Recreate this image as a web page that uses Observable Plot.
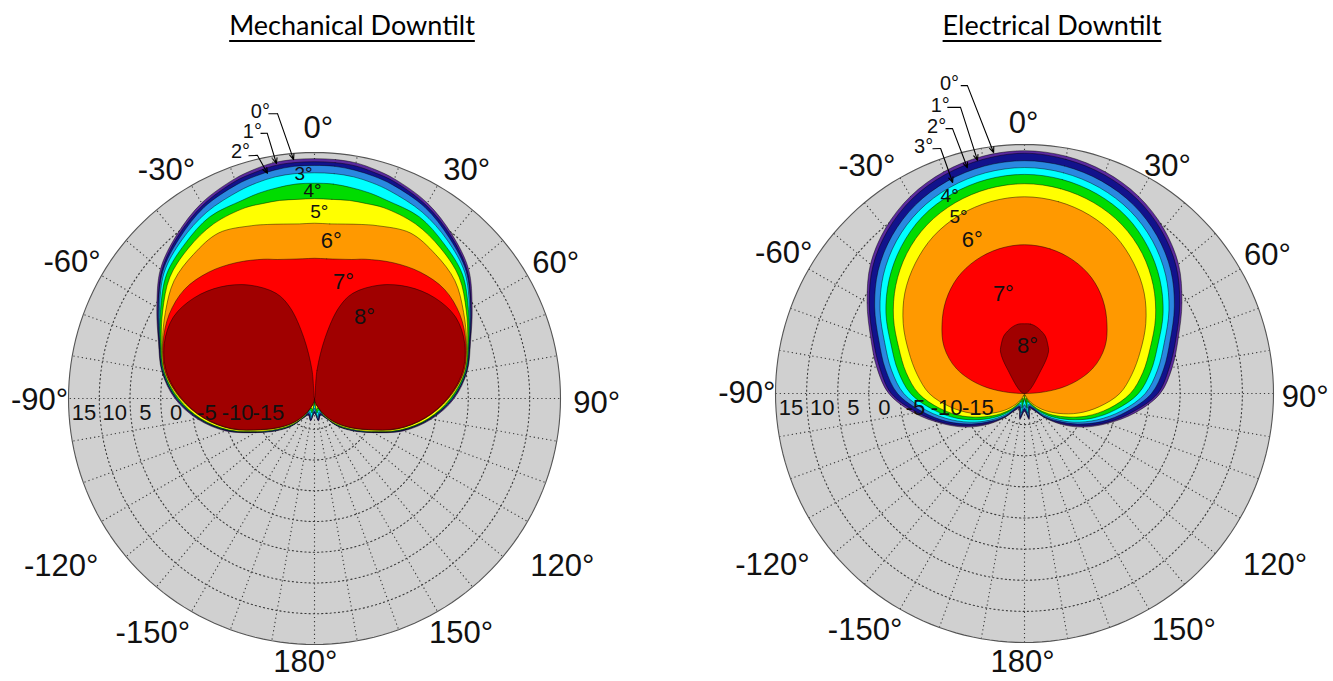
<!DOCTYPE html>
<html>
<head>
<meta charset="utf-8">
<script src="https://cdn.jsdelivr.net/npm/d3@7"></script>
<script src="https://cdn.jsdelivr.net/npm/@observablehq/plot@0.6"></script>
<style>
  html, body { margin: 0; padding: 0; background: #fff; }
  #page { position: relative; width: 1333px; height: 681px; overflow: hidden; }
  .title { position: absolute; top: 8px; transform: translateX(-50%); white-space: nowrap;
           font-family: Lato, "Open Sans", sans-serif; font-size: 27px; color: #000;
           text-decoration: underline; text-decoration-thickness: 2px; text-underline-offset: 5px; }
  .chart { position: absolute; top: 50px; }
</style>
</head>
<body>
<div id="page">
  <div class="title" style="left:352px">Mechanical Downtilt</div>
  <div class="title" style="left:1052px">Electrical Downtilt</div>
  <div class="chart" id="mech" style="left:0px"></div>
  <div class="chart" id="elec" style="left:666px"></div>
</div>
<script>
// ---------- shared axis data ----------
const levelNames  = ["0°","1°","2°","3°","4°","5°","6°","7°","8°"];
const levelColors = ["#5b2a9e","#12128c","#2a88e0","#00ffff","#00dc00","#ffff00","#ff9900","#ff0000","#a00000"];
const radialTicks = [15, 10, 5, 0, -5, -10, -15];
const ringValues  = [-20, -15, -10, -5, 0, 5, 10];
const angleTicks  = [0, 30, 60, 90, 120, 150, 180, -150, -120, -90, -60, -30];
const spokeAngles = [0,10,20,30,40,50,60,70,80,90,100,110,120,130,140,150,160,170,180,190,200,210,220,230,240,250,260,270,280,290,300,310,320,330,340,350];
const R_MIN = -25, R_MAX = 15;

// where each azimuth tick label sits (azimuth, radial units)
const mechTickA = [0.8, 33.7, 60.6, 91, 124, 148, 182, -145.4, -123.5, -90.4, -60.7, -33];
const mechTickR = [18.9, 19.6, 20.0, 20.9, 23.6, 20.0, 17.9, 21.3, 24.4, 19.7, 20.2, 19.2];
const elecTickA = [-0.2, 32.1, 60.4, 90.8, 124.4, 146, 180.4, -146, -124.3, -90, -59.7, -34.7];
const elecTickR = [18.4, 18.2, 19.9, 20.1, 23.8, 20.8, 18.2, 20.8, 24.0, 19.6, 19.8, 19.5];

// ---------- Mechanical downtilt: contour radii (radial axis units) per azimuth, right half ----------
const mechAngles = [0,5,10,15,20,30,40,50,60,70,80,90,100,110,120,130,140,150,160,170,180];
const mechL0 = [14.0,14.0,13.9,13.5,13.0,11.7,9.8,7.7,4.6,2.0,0.2,-2.3,-5.7,-9.6,-13.9,-16.8,-19.1,-21.3,-22.1,-21.3,-22.6];
const mechL1 = [13.5,13.5,13.4,13.0,12.6,11.3,9.5,7.4,4.4,1.9,0.1,-2.5,-5.9,-9.8,-14.0,-17.0,-19.2,-21.4,-22.2,-21.4,-22.7];
const mechL2 = [12.9,12.9,12.7,12.4,12.0,10.9,9.1,7.2,4.3,1.8,0.0,-2.6,-6.0,-9.9,-14.1,-17.0,-19.3,-21.5,-22.4,-21.6,-22.9];
const mechL3 = [11.7,11.7,11.6,11.3,10.9,10.0,8.6,6.9,4.1,1.7,0.0,-2.6,-6.1,-10.0,-14.2,-17.1,-19.4,-21.6,-22.7,-21.9,-23.4];
const mechL4 = [10.0,10.0,9.8,9.6,9.3,9.1,7.8,6.4,3.9,1.7,-0.1,-2.7,-6.1,-10.0,-14.3,-17.2,-19.5,-21.7,-23.0,-22.6,-24.0];
const mechL5 = [7.5,7.5,7.7,7.8,8.0,7.8,6.9,5.7,3.5,1.5,-0.2,-2.9,-6.2,-10.1,-14.3,-17.3,-19.6,-21.7,-23.4,-23.2,-24.5];
const mechL6 = [3.5,3.5,3.8,4.3,4.9,6.1,5.6,4.8,3.0,1.3,-0.4,-3.2,-6.7,-10.6,-14.8,-17.7,-20.0,-22.1,-23.6,-24.0,-24.8];
const mechL7 = [-2.2,-2.2,-2.0,-1.6,-0.9,0.5,1.8,2.6,2.3,1.2,-0.4,-3.3,-6.7,-10.6,-14.9,-17.8,-20.1,-22.2,-23.7,-24.5,-25];
const mechL8 = [-25,-20.4,-14.9,-9.7,-6.8,-3.7,-1.3,0.5,1.5,1.0,-0.6,-3.4,-6.8,-10.7,-14.9,-17.8,-20.1,-22.2,-23.7,-24.5,-25];

// ---------- Electrical downtilt ----------
const elecAngles = [0,10,20,30,40,50,60,70,80,90,100,110,120,130,140,150,160,170,180];
const elecL0 = [14.0,13.7,12.9,11.6,9.7,7.3,4.2,1.3,-0.9,-3.2,-7.0,-10.9,-14.2,-17.3,-19.9,-21.8,-22.4,-20.8,-22.1];
const elecL1 = [13.6,13.2,12.4,11.1,9.2,6.8,3.8,0.9,-1.4,-3.6,-7.5,-11.2,-14.6,-17.6,-20.0,-21.9,-22.6,-21.0,-22.3];
const elecL2 = [12.4,12.1,11.3,10.0,8.1,5.7,2.8,-0.1,-2.3,-4.6,-8.3,-11.8,-15.2,-18.1,-20.3,-22.3,-22.8,-21.3,-22.6];
const elecL3 = [11.3,11.0,10.2,8.9,7.0,4.6,1.8,-1.1,-3.3,-5.6,-9.1,-12.6,-15.8,-18.6,-20.8,-22.6,-23.1,-21.8,-23.2];
const elecL4 = [10.2,9.9,9.1,7.8,5.8,3.4,0.7,-2.2,-4.4,-6.7,-10.1,-13.4,-16.6,-19.2,-21.3,-22.9,-23.6,-22.6,-24.0];
const elecL5 = [8.7,8.4,7.6,6.3,4.4,2.0,-0.7,-3.5,-5.7,-8.0,-11.2,-14.4,-17.5,-19.9,-21.8,-23.4,-24.2,-23.6,-24.5];
const elecL6 = [6.6,6.3,5.5,4.2,2.3,0.1,-2.5,-5.2,-7.5,-9.7,-12.8,-15.8,-18.6,-20.8,-22.6,-23.9,-24.7,-24.5,-25];
const elecL7 = [-1.1,-1.4,-2.2,-3.5,-5.4,-7.7,-10.1,-13.4,-18.3,-25,-25,-25,-25,-25,-25,-25,-25,-25,-25];
const elecCoreAngles = [0,5,10,15,20,25,30,35,40];
const elecL8 = [-13.8,-13.8,-14.1,-14.6,-15.2,-16.2,-17.3,-20.2,-25];

// ---------- in-plot level labels (azimuth, radial units) ----------
const mechLabelText  = ["3°","4°","5°","6°","7°","8°"];
const mechLabelAngle = [-2.8,-0.55,1.5,6.1,13.9,31.7];
const mechLabelR     = [11.6,8.8,5.3,0.8,-5.4,-9.5];
const elecLabelText  = ["4°","5°","6°","7°","8°"];
const elecLabelAngle = [-20.7,-20.45,-18.8,-12.0,3.7];
const elecLabelR     = [9.0,5.3,1.0,-8.7,-17.4];

// ---------- callouts with arrows ----------
const mechCallText   = ["0°","1°","2°"];
const mechCallTextA  = [-10.7,-13.1,-16.7], mechCallTextR  = [22.4,19.6,16.9];
const mechCallStartA = [-9.2,-11.5,-15.2],  mechCallStartR = [21.9,19.0,15.9];
const mechCallElbowA = [-7.4,-10.1,-13.2],  mechCallElbowR = [21.7,18.8,15.6];
const mechCallTipA   = [-5.0,-9.2,-11.8],   mechCallTipR   = [14.0,13.7,12.4];
const elecCallText   = ["0°","1°","2°","3°"];
const elecCallTextA  = [-13.6,-16.3,-18.2,-22.2], elecCallTextR  = [26.2,23.2,20.2,17.9];
const elecCallStartA = [-11.7,-15.1,-16.6,-20.6], elecCallStartR = [25.5,22.6,19.4,17.0];
const elecCallElbowA = [-10.5,-12.6,-15.2,-18.9], elecCallElbowR = [25.3,22.1,19.1,16.6];
const elecCallTipA   = [-7.3,-11.4,-14.2,-18.8],  elecCallTipR   = [14.0,13.2,12.4,10.8];

// ---------- helpers ----------
const rho = u => (u - R_MIN) / (R_MAX - R_MIN);
const rad = a => a * Math.PI / 180;
const P = (a, u) => ({x: rho(u) * Math.sin(rad(a)), y: rho(u) * Math.cos(rad(a))});

function contour(angles, radii, level) {
  const pts = angles.map((a, i) => [a, radii[i]]);
  for (let i = angles.length - 2; i >= 1; i--) pts.push([-angles[i], radii[i]]);
  const out = [];
  for (const p of pts) {
    const prev = out[out.length - 1];
    if (p[1] <= R_MIN && prev && prev[1] <= R_MIN) continue;
    out.push(p);
  }
  if (out.length > 1 && out[0][1] <= R_MIN && out[out.length - 1][1] <= R_MIN) out.pop();
  return out.map(([a, u]) => ({...P(a, u), level}));
}

const FONT = "'Liberation Sans', Arial, Helvetica, sans-serif";

function chart(cfg) {
  const {cx, cy, R, W, H, shapes, labels, tight, callouts, tickA, tickR} = cfg;
  const circle = d3.range(0, 361, 2).map(a => P(a, R_MAX));
  const rings = ringValues.flatMap(v => d3.range(0, 361, 2).map(a => ({...P(a, v), v})));
  const spokes = spokeAngles.map(a => P(a, R_MAX));
  const angLabels = angleTicks.map((a, i) => ({...P(tickA[i], tickR[i]), t: `${a}°`}));
  const radLabels = radialTicks.map(t => ({...P(-90, t - 2.5), t: String(t)}));
  const marks = [
    Plot.line(circle, {x: "x", y: "y", fill: "#d0d0d0", stroke: "none", curve: "linear-closed"}),
    Plot.line(rings, {x: "x", y: "y", z: "v", stroke: "#3a3a3a", strokeWidth: 1.1, strokeDasharray: "1.2,3"}),
    Plot.link(spokes, {x1: 0, y1: 0, x2: "x", y2: "y", stroke: "#3a3a3a", strokeWidth: 1.1, strokeDasharray: "1.2,3"})
  ];
  for (const s of shapes) {
    marks.push(Plot.line(contour(s.angles, s.radii, s.level), {
      x: "x", y: "y", fill: "level", stroke: "#000", strokeWidth: 0.6, strokeOpacity: 0.75,
      curve: "catmull-rom-closed"
    }));
  }
  marks.push(Plot.line(circle, {x: "x", y: "y", stroke: "#555", strokeWidth: 1.1, curve: "linear-closed"}));
  marks.push(Plot.text(angLabels, {x: "x", y: "y", text: "t", fontSize: 31, fontFamily: FONT, fill: "#111"}));
  marks.push(Plot.text(radLabels, {x: "x", y: "y", text: "t", dy: 14, fontSize: 22, fontFamily: FONT, fill: "#111"}));
  marks.push(Plot.text(labels.slice(0, tight), {x: "x", y: "y", text: "t", fontSize: 19, fontFamily: FONT, fill: "#111"}));
  marks.push(Plot.text(labels.slice(tight), {x: "x", y: "y", text: "t", fontSize: 22, fontFamily: FONT, fill: "#111"}));
  marks.push(Plot.text(callouts, {x: "tx", y: "ty", text: "t", fontSize: 20, fontFamily: FONT, fill: "#111"}));
  marks.push(Plot.link(callouts, {x1: "sx", y1: "sy", x2: "ex", y2: "ey", stroke: "#000", strokeWidth: 1.1}));
  marks.push(Plot.arrow(callouts, {x1: "ex", y1: "ey", x2: "px", y2: "py", stroke: "#000", strokeWidth: 1.1, headLength: 8, headAngle: 45}));
  return Plot.plot({
    width: W, height: H, margin: 0,
    x: {domain: [-cx / R, (W - cx) / R], axis: null},
    y: {domain: [-(H - cy) / R, cy / R], axis: null},
    color: {domain: levelNames, range: levelColors},
    style: {background: "none", overflow: "visible"},
    marks
  });
}

function makeCallouts(text, tA, tR, sA, sR, eA, eR, pA, pR) {
  return text.map((t, i) => {
    const T = P(tA[i], tR[i]), S = P(sA[i], sR[i]), E = P(eA[i], eR[i]), Q = P(pA[i], pR[i]);
    return {t, tx: T.x, ty: T.y, sx: S.x, sy: S.y, ex: E.x, ey: E.y, px: Q.x, py: Q.y};
  });
}

const mechLevels = [mechL0, mechL1, mechL2, mechL3, mechL4, mechL5, mechL6, mechL7, mechL8];
const mechChart = chart({
  cx: 314, cy: 348, R: 246, W: 666, H: 631, tickA: mechTickA, tickR: mechTickR, tight: 3,
  shapes: mechLevels.map((radii, k) => ({angles: mechAngles, radii, level: levelNames[k]})),
  labels: mechLabelText.map((t, i) => ({...P(mechLabelAngle[i], mechLabelR[i]), t})),
  callouts: makeCallouts(mechCallText, mechCallTextA, mechCallTextR, mechCallStartA, mechCallStartR,
                         mechCallElbowA, mechCallElbowR, mechCallTipA, mechCallTipR)
});
document.getElementById("mech").appendChild(mechChart);

const elecLevels = [elecL0, elecL1, elecL2, elecL3, elecL4, elecL5, elecL6, elecL7];
const elecShapes = elecLevels.map((radii, k) => ({angles: elecAngles, radii, level: levelNames[k]}));
elecShapes.push({angles: elecCoreAngles, radii: elecL8, level: levelNames[8]});
const elecChart = chart({
  cx: 358, cy: 343, R: 249, W: 667, H: 631, tickA: elecTickA, tickR: elecTickR, tight: 2,
  shapes: elecShapes,
  labels: elecLabelText.map((t, i) => ({...P(elecLabelAngle[i], elecLabelR[i]), t})),
  callouts: makeCallouts(elecCallText, elecCallTextA, elecCallTextR, elecCallStartA, elecCallStartR,
                         elecCallElbowA, elecCallElbowR, elecCallTipA, elecCallTipR)
});
document.getElementById("elec").appendChild(elecChart);
</script>
</body>
</html>
